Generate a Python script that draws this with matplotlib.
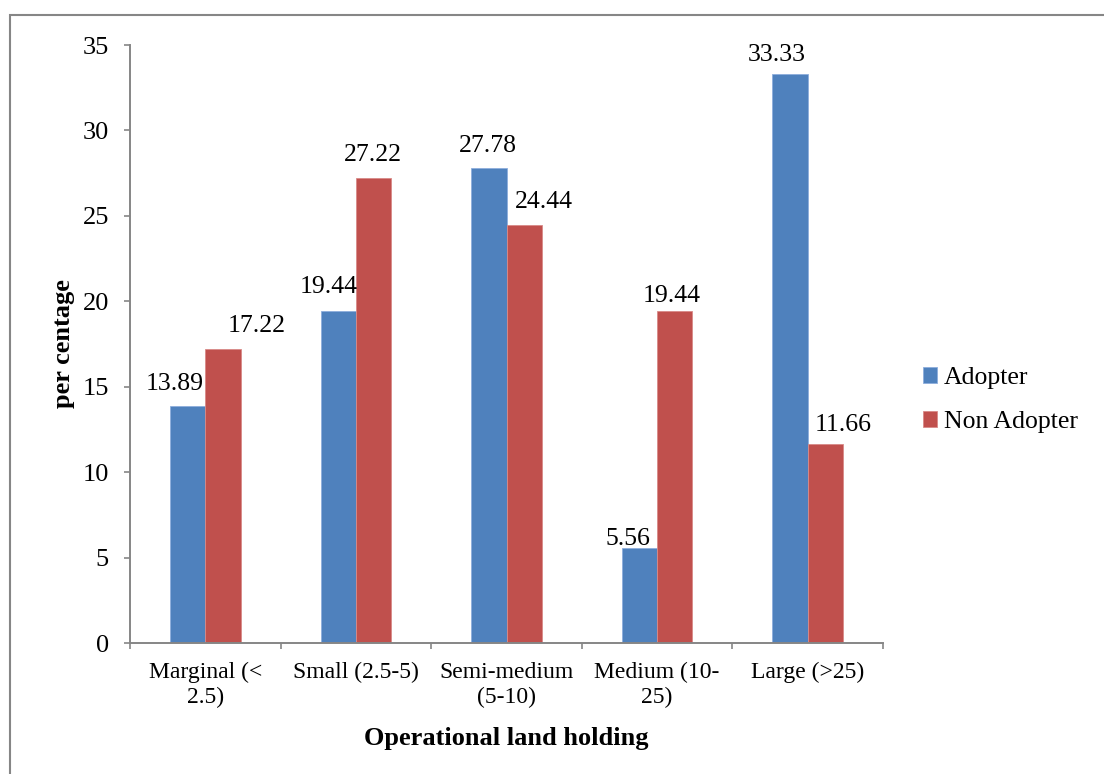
import matplotlib.pyplot as plt
from matplotlib.patches import Rectangle
import numpy as np

categories = ['Marginal (<\n2.5)', 'Small (2.5-5)', 'Semi-medium\n(5-10)',
              'Medium (10-\n25)', 'Large (>25)']
adopter = [13.89, 19.44, 27.78, 5.56, 33.33]
non_adopter = [17.22, 27.22, 24.44, 19.44, 11.66]
series_names = ['Adopter', 'Non Adopter']
y_ticks = [0, 5, 10, 15, 20, 25, 30, 35]

# label nudges in pixels (dx from bar centre, dy from bar top to text centre)
adopter_nudge = [(-13, 25), (-10, 27), (-1, 25), (-11, 12), (-13, 22)]
non_adopter_nudge = [(34, 26), (-1, 26), (20, 26), (-3, 18), (18, 22)]

BLUE = '#4F81BD'
RED = '#C0504D'
GREY = '#868686'
PX = 0.72  # points per pixel at dpi 100

plt.rcParams['font.family'] = ['Liberation Serif', 'DejaVu Serif']

fig = plt.figure(figsize=(11.04, 7.74), dpi=100)
ax = fig.add_axes([130 / 1104, 1 - 643 / 774, (883 - 130) / 1104, (643 - 45) / 774])

x = np.arange(len(categories))
w = 0.235
b1 = ax.bar(x - w / 2, adopter, w, color=BLUE, label=series_names[0],
            edgecolor='#8EAEDC', linewidth=0.6)
b2 = ax.bar(x + w / 2, non_adopter, w, color=RED, label=series_names[1],
            edgecolor='#D98A88', linewidth=0.6)

for bars, vals, nudges in [(b1, adopter, adopter_nudge), (b2, non_adopter, non_adopter_nudge)]:
    for bar, v, (dx, dy) in zip(bars, vals, nudges):
        ax.annotate(f'{v:.2f}', (bar.get_x() + bar.get_width() / 2, v),
                    xytext=(dx * PX, (dy - 9) * PX), textcoords='offset points',
                    ha='center', va='baseline', fontsize=18.5, color='black')

ax.set_xlim(-0.5, len(categories) - 0.5)
ax.set_ylim(0, 35)
ax.set_yticks(y_ticks)
ax.tick_params(axis='y', labelsize=19, length=4.3, width=1.2, color=GREY, pad=11)

# category boundaries carry the tick marks, labels sit at the centres
ax.set_xticks(np.arange(len(categories) + 1) - 0.5)
ax.set_xticklabels([])
ax.set_xticks(x, minor=True)
ax.set_xticklabels(categories, minor=True, fontsize=17, linespacing=1.24)
ax.tick_params(axis='x', which='major', length=4.3, width=1.2, color=GREY)
ax.tick_params(axis='x', which='minor', length=0, pad=13.5)

for side in ['top', 'right']:
    ax.spines[side].set_visible(False)
for side in ['left', 'bottom']:
    ax.spines[side].set_color(GREY)
    ax.spines[side].set_linewidth(1.4)

ax.set_xlabel('Operational land holding', fontsize=19, fontweight='bold', labelpad=14)
ax.set_ylabel('per centage', fontsize=19, fontweight='bold', labelpad=5)

fig.legend(loc='center left', bbox_to_anchor=(923 / 1104, 1 - 400 / 774),
           frameon=False, fontsize=18.5, handlelength=0.55, handleheight=0.55,
           handletextpad=0.25, labelspacing=0.85, borderpad=0, borderaxespad=0)

# outer chart border (left and top edges visible)
fig.patches.append(Rectangle((10 / 1104, -0.1), 1.2, 1.1 - 15 / 774,
                             transform=fig.transFigure, fill=False,
                             edgecolor=GREY, linewidth=1.5))

fig.savefig('out.png', dpi=100)
